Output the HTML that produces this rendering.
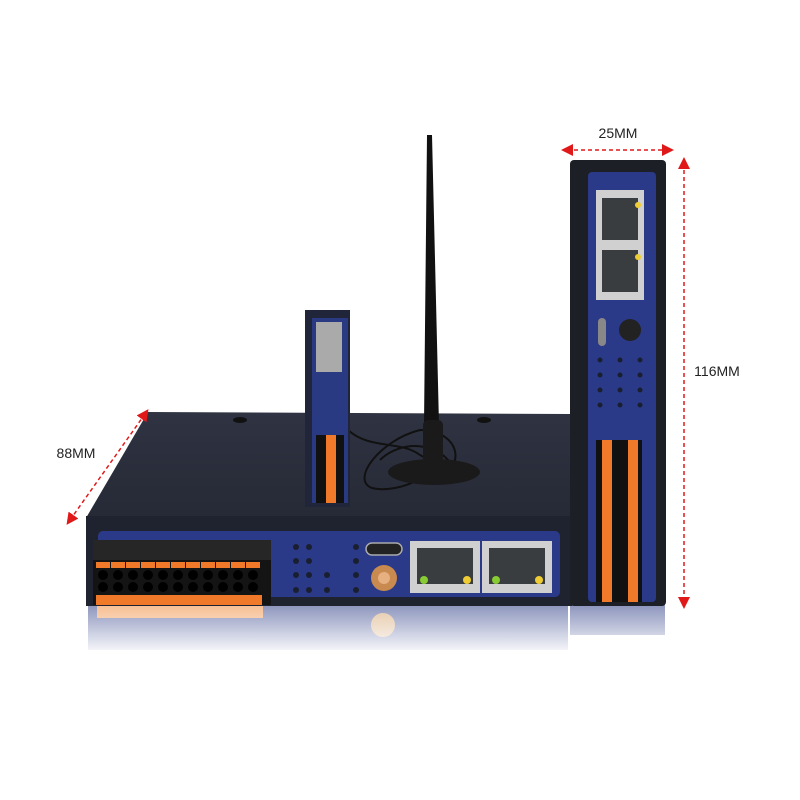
<!DOCTYPE html>
<html><head><meta charset="utf-8"><style>
html,body{margin:0;padding:0;background:#fff;}
svg{display:block;}
text{font-family:"Liberation Sans",sans-serif;}
</style></head><body>
<svg width="800" height="800" viewBox="0 0 800 800" xmlns="http://www.w3.org/2000/svg">
<defs>
<marker id="ar" markerWidth="8" markerHeight="8" refX="4" refY="4" orient="auto-start-reverse"><path d="M0,0 L8,4 L0,8 z" fill="#e01818"/></marker>
<linearGradient id="refl" x1="0" y1="0" x2="0" y2="1"><stop offset="0" stop-color="#fff" stop-opacity="0.45"/><stop offset="1" stop-color="#fff" stop-opacity="1"/></linearGradient>
<linearGradient id="top" x1="0" y1="0" x2="0" y2="1"><stop offset="0" stop-color="#2f3342"/><stop offset="1" stop-color="#262a36"/></linearGradient>
</defs>
<rect width="800" height="800" fill="#fff"/>
<!-- reflection -->
<rect x="88" y="605" width="480" height="45" fill="#2f3f88"/>
<rect x="97" y="606" width="166" height="12" fill="#f08a3a"/>
<circle cx="383" cy="625" r="12" fill="#d09a60"/>
<rect x="570" y="605" width="95" height="30" fill="#2f3f88"/>
<rect x="80" y="605" width="600" height="50" fill="url(#refl)"/>
<!-- big device top -->
<polygon points="148,412 570,414 570,518 86,518" fill="url(#top)"/>
<ellipse cx="240" cy="420" rx="7" ry="3" fill="#111"/>
<ellipse cx="484" cy="420" rx="7" ry="3" fill="#111"/>
<!-- front -->
<rect x="86" y="516" width="486" height="90" fill="#1f2330"/>
<rect x="98" y="531" width="462" height="66" rx="5" fill="#2a3a88"/>
<!-- terminal blocks -->
<rect x="93" y="540" width="178" height="65" fill="#141414"/>
<rect x="93" y="540" width="178" height="20" fill="#262626"/>
<g fill="#f07a2a">
<rect x="96" y="562" width="14" height="6"/><rect x="111" y="562" width="14" height="6"/><rect x="126" y="562" width="14" height="6"/><rect x="141" y="562" width="14" height="6"/><rect x="156" y="562" width="14" height="6"/><rect x="171" y="562" width="14" height="6"/><rect x="186" y="562" width="14" height="6"/><rect x="201" y="562" width="14" height="6"/><rect x="216" y="562" width="14" height="6"/><rect x="231" y="562" width="14" height="6"/><rect x="246" y="562" width="14" height="6"/>
</g>
<rect x="96" y="595" width="166" height="10" fill="#f07a2a"/>
<g fill="#000">
<circle cx="103" cy="575" r="5"/><circle cx="118" cy="575" r="5"/><circle cx="133" cy="575" r="5"/><circle cx="148" cy="575" r="5"/><circle cx="163" cy="575" r="5"/><circle cx="178" cy="575" r="5"/><circle cx="193" cy="575" r="5"/><circle cx="208" cy="575" r="5"/><circle cx="223" cy="575" r="5"/><circle cx="238" cy="575" r="5"/><circle cx="253" cy="575" r="5"/>
<circle cx="103" cy="587" r="5"/><circle cx="118" cy="587" r="5"/><circle cx="133" cy="587" r="5"/><circle cx="148" cy="587" r="5"/><circle cx="163" cy="587" r="5"/><circle cx="178" cy="587" r="5"/><circle cx="193" cy="587" r="5"/><circle cx="208" cy="587" r="5"/><circle cx="223" cy="587" r="5"/><circle cx="238" cy="587" r="5"/><circle cx="253" cy="587" r="5"/>
</g>
<!-- LEDs -->
<g fill="#1a1f30"><circle cx="296" cy="547" r="3"/><circle cx="296" cy="561" r="3"/><circle cx="296" cy="575" r="3"/><circle cx="296" cy="590" r="3"/><circle cx="309" cy="547" r="3"/><circle cx="309" cy="561" r="3"/><circle cx="309" cy="575" r="3"/><circle cx="309" cy="590" r="3"/><circle cx="327" cy="575" r="3"/><circle cx="327" cy="590" r="3"/><circle cx="356" cy="547" r="3"/><circle cx="356" cy="561" r="3"/><circle cx="356" cy="575" r="3"/><circle cx="356" cy="590" r="3"/></g>
<!-- usb -->
<rect x="366" y="543" width="36" height="12" rx="6" fill="#222" stroke="#aaa" stroke-width="1.5"/>
<!-- SMA -->
<circle cx="384" cy="578" r="13" fill="#c98a50"/><circle cx="384" cy="578" r="6" fill="#e6b080"/>
<!-- ethernet -->
<rect x="410" y="541" width="70" height="52" fill="#d0d0d0"/><rect x="417" y="548" width="56" height="36" fill="#3a3d40"/>
<rect x="482" y="541" width="70" height="52" fill="#d0d0d0"/><rect x="489" y="548" width="56" height="36" fill="#3a3d40"/>
<circle cx="424" cy="580" r="4" fill="#8c3"/><circle cx="467" cy="580" r="4" fill="#ec3"/><circle cx="496" cy="580" r="4" fill="#8c3"/><circle cx="539" cy="580" r="4" fill="#ec3"/>
<!-- antenna cable & base -->
<path d="M348,430 C370,450 400,440 420,455 C450,470 400,495 372,488 C350,480 380,440 420,430 C460,430 470,470 430,480 M380,460 C400,440 440,440 455,470" stroke="#111" stroke-width="2" fill="none"/>
<ellipse cx="434" cy="472" rx="46" ry="13" fill="#1a1a1a"/>
<polygon points="427,135 432,135 439,425 424,425" fill="#111"/>
<rect x="423" y="420" width="20" height="45" rx="5" fill="#1a1a1a"/>
<!-- small device -->
<rect x="305" y="310" width="45" height="197" fill="#20253a"/>
<rect x="312" y="318" width="36" height="185" fill="#2a3a82"/>
<rect x="316" y="322" width="26" height="50" fill="#aaa"/>
<rect x="316" y="435" width="28" height="68" fill="#111"/>
<rect x="326" y="435" width="10" height="68" fill="#f07a2a"/>
<!-- tall device -->
<rect x="570" y="160" width="96" height="446" rx="4" fill="#1c1f26"/>
<rect x="588" y="172" width="68" height="430" rx="4" fill="#2a3a88"/>
<rect x="596" y="190" width="48" height="110" fill="#d0d0d0"/>
<rect x="602" y="198" width="36" height="42" fill="#3a3d40"/><rect x="602" y="250" width="36" height="42" fill="#3a3d40"/>
<circle cx="638" cy="205" r="3" fill="#ec3"/><circle cx="638" cy="257" r="3" fill="#ec3"/>
<circle cx="630" cy="330" r="11" fill="#222"/>
<rect x="598" y="318" width="8" height="28" rx="4" fill="#888"/>
<g fill="#1a1f30"><circle cx="600" cy="360" r="2.5"/><circle cx="620" cy="360" r="2.5"/><circle cx="640" cy="360" r="2.5"/><circle cx="600" cy="375" r="2.5"/><circle cx="620" cy="375" r="2.5"/><circle cx="640" cy="375" r="2.5"/><circle cx="600" cy="390" r="2.5"/><circle cx="620" cy="390" r="2.5"/><circle cx="640" cy="390" r="2.5"/><circle cx="600" cy="405" r="2.5"/><circle cx="620" cy="405" r="2.5"/><circle cx="640" cy="405" r="2.5"/></g>
<rect x="596" y="440" width="46" height="162" fill="#111"/>
<rect x="602" y="440" width="10" height="162" fill="#f07a2a"/>
<rect x="628" y="440" width="10" height="162" fill="#f07a2a"/>
<!-- dimensions -->
<g stroke="#e01818" stroke-width="1.5" stroke-dasharray="4,3" fill="none">
<line x1="567" y1="150" x2="668" y2="150" marker-start="url(#ar)" marker-end="url(#ar)"/>
<line x1="684" y1="163" x2="684" y2="603" marker-start="url(#ar)" marker-end="url(#ar)"/>
<line x1="70" y1="520" x2="145" y2="414" marker-start="url(#ar)" marker-end="url(#ar)"/>
</g>
<text x="618" y="138" font-size="14" text-anchor="middle" fill="#222">25MM</text>
<text x="717" y="376" font-size="14" text-anchor="middle" fill="#222">116MM</text>
<text x="76" y="458" font-size="14" text-anchor="middle" fill="#222">88MM</text>
</svg>
</body></html>
